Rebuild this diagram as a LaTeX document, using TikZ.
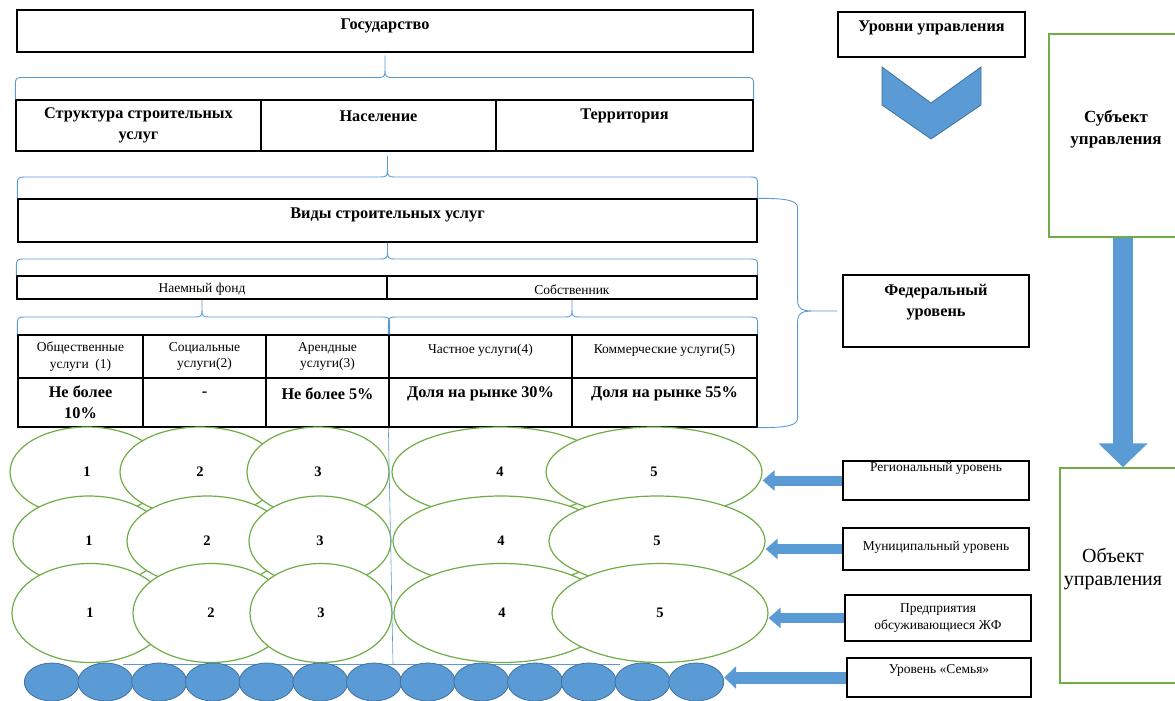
\documentclass[tikz,border=0pt]{standalone}
\usepackage{fontspec}
\setmainfont{Liberation Serif}
\usetikzlibrary{arrows.meta, positioning, calc, shapes.geometric}

\definecolor{greenline}{HTML}{70AD47}
\definecolor{bluefill}{HTML}{5B9BD5}
\definecolor{blueline}{HTML}{41719C}

% curly brace from two lower corners up to a tip
\newcommand{\bracelink}[3]{%
  \draw[brc] let \p1=(#1), \p2=(#2), \p3=(#3), \p4=($(\p1)!.5!(\p3)$) in
    (\x1,\y1) -- (\x1,\y4-7pt) .. controls (\x1,\y4-1pt) and (\x1+1pt,\y4) .. (\x1+7pt,\y4)
    -- (\x3-7pt,\y4) .. controls (\x3-1pt,\y4) and (\x3,\y4+1pt) .. (\x3,\y4+7pt) -- (\x3,\y3)
    (\x3,\y4+7pt) .. controls (\x3,\y4+1pt) and (\x3+1pt,\y4) .. (\x3+7pt,\y4)
    -- (\x2-7pt,\y4) .. controls (\x2-1pt,\y4) and (\x2,\y4-1pt) .. (\x2,\y4-7pt) -- (\x2,\y2);
}

\begin{document}
\begin{tikzpicture}[
	x=1pt, y=-1pt,
	box/.style={draw, line width=1.3pt, rectangle, inner sep=0pt},
	gbox/.style={draw=greenline, line width=1.4pt, rectangle, inner sep=0pt},
	big/.style={font=\bfseries\fontsize{16.3}{21}\selectfont, align=center, inner sep=0pt},
	small/.style={font=\fontsize{13.5}{16.5}\selectfont, align=center, inner sep=0pt},
	oval/.style={ellipse, draw=greenline, fill=white, line width=1.2pt, inner sep=0pt,
		font=\bfseries\fontsize{14.5}{16}\selectfont},
	dot/.style={ellipse, draw=blueline, fill=bluefill, line width=0.8pt,
		minimum width=55pt, minimum height=38pt},
	brc/.style={draw=bluefill, line width=0.9pt},
	barrow/.style={draw=bluefill, line width=10pt, -{Triangle[length=12pt,width=20pt]}}
	]
	\useasboundingbox (0,0) rectangle (1175,701);
	\clip (0,0) rectangle (1175,701);
	
	% Left column
	\node[box, minimum width=736pt, minimum height=42pt] (state) at (385,31) {};
	\node[big] (stateT) at ([yshift=5pt]state.center) {Государство};
	
	\node[box, minimum width=245pt, minimum height=51pt] (str) at (138.5,125.5) {};
	\node[box, minimum width=235pt, minimum height=51pt] (pop) at (378.5,125.5) {};
	\node[box, minimum width=257pt, minimum height=51pt] (terr) at (624.5,125.5) {};
	\node[big] (strT) at (str.center) {Структура строительных\\услуг};
	\node[big] (popT) at ([yshift=9.5pt]pop.center) {Население};
	\node[big] (terrT) at ([yshift=9.5pt]terr.center) {Территория};
	
	\node[box, minimum width=739pt, minimum height=43pt] (kinds) at (387.5,220.5) {};
	\node[big] (kindsT) at ([yshift=5.5pt]kinds.center) {Виды строительных услуг};
	
	\node[box, minimum width=370pt, minimum height=23pt] (hire) at (202,287.5) {};
	\node[box, minimum width=370pt, minimum height=23pt] (own) at (572,287.5) {};
	\node[small] (hireT) at ([yshift=-2pt]hire.center) {Наемный фонд};
	\node[small] (ownT) at ([yshift=-2pt]own.center) {Собственник};
	
	% Table
	\foreach \n/\x/\w in {1/80.5/125, 2/204.5/123, 3/327.5/123, 4/480.5/183, 5/664.5/185} {
		\node[box, minimum width=\w pt, minimum height=43pt] (c\n a) at (\x,356.5) {};
		\node[box, minimum width=\w pt, minimum height=49pt] (c\n b) at (\x,402.5) {};
	}
	\node[small] (c1aT) at (c1a.center) {Общественные\\услуги~ (1)};
	\node[small] (c2aT) at (c2a.center) {Социальные\\услуги(2)};
	\node[small] (c3aT) at (c3a.center) {Арендные\\услуги(3)};
	\node[small] (c4aT) at ([yshift=6.5pt]c4a.center) {Частное услуги(4)};
	\node[small] (c5aT) at ([yshift=6.5pt]c5a.center) {Коммерческие услуги(5)};
	\node[big] (c1bT) at (c1b.center) {Не более\\10\%};
	\node[big] (c2bT) at ([yshift=8.5pt]c2b.center) {-};
	\node[big] (c3bT) at ([yshift=8.5pt]c3b.center) {Не более 5\%};
	\node[big] (c4bT) at ([yshift=8.5pt]c4b.center) {Доля на рынке 30\%};
	\node[big] (c5bT) at ([yshift=8.5pt]c5b.center) {Доля на рынке 55\%};
	
	% Braces
	\path (state.south) ++(0,3) coordinate (t1);
	\path (pop.south -| kinds.north) ++(0,4) coordinate (t2);
	\bracelink{str.north west}{terr.north east}{t1}
	\bracelink{kinds.north west}{kinds.north east}{t2}
	\bracelink{hire.north west}{own.north east}{kinds.south}
	\bracelink{c1a.north west}{c3a.north east}{hire.south}
	\bracelink{c4a.north west}{c5a.north east}{own.south}
	
	% Right column
	\node[box, minimum width=187pt, minimum height=45pt] (levels) at (931.5,34.5) {};
	\node[big] (levelsT) at ([yshift=6.5pt]levels.center) {Уровни управления};
	\filldraw[fill=bluefill, draw=blueline, line width=0.8pt]
		(882,67) -- (931,103) -- (981,67) -- (981,105) -- (931,139) -- (882,105) -- cycle;
	
	\node[box, minimum width=186pt, minimum height=72pt] (fed) at (936,311) {};
	\node[big] (fedT) at ([yshift=9pt]fed.center) {Федеральный\\уровень};
	\draw[brc] let \p1=(kinds.north east), \p2=(c5b.south east), \p3=(fed.west) in
		(\x1,\y1) .. controls (\x1+30pt,\y1) and (\x1+40pt,\y1-2pt) .. (\x1+40pt,\y1-10pt)
		-- (\x1+40pt,\y3+10pt) .. controls (\x1+40pt,\y3+2pt) and (\x1+45pt,\y3) .. (\x1+55pt,\y3)
		-- (\x3-5pt,\y3)
		(\x1+55pt,\y3) .. controls (\x1+45pt,\y3) and (\x1+40pt,\y3-2pt) .. (\x1+40pt,\y3-10pt)
		-- (\x2+40pt,\y2+10pt) .. controls (\x2+40pt,\y2+2pt) and (\x2+30pt,\y2) .. (\x2,\y2);
	
	\node[gbox, minimum width=148pt, minimum height=203pt] (subj) at (1123,135.5) {};
	\node[big, font=\bfseries\fontsize{17}{22}\selectfont] (subjT) at ([xshift=-7pt,yshift=6.5pt]subj.center) {Субъект\\управления};
	\node[gbox, minimum width=126pt, minimum height=215pt] (obj) at (1123,575.5) {};
	\node[big, font=\fontsize{20}{23}\selectfont] (objT) at ([xshift=-10pt,yshift=7pt]obj.center) {Объект\\управления};
	\draw[draw=bluefill, line width=20pt, -{Triangle[length=24pt,width=48pt]}] (subj.south) -- (obj.north);
	
	\node[box, minimum width=186pt, minimum height=39pt] (reg) at (936,480.5) {};
	\node[small] (regT) at ([yshift=12pt]reg.center) {Региональный уровень};
	\node[box, minimum width=186pt, minimum height=42pt] (mun) at (936,549) {};
	\node[small] (munT) at ([yshift=2pt]mun.center) {Муниципальный уровень};
	\node[box, minimum width=186pt, minimum height=46pt] (ent) at (938,618) {};
	\node[small] (entT) at (ent.center) {Предприятия\\обсуживающиеся ЖФ};
	\node[box, minimum width=184pt, minimum height=39pt] (fam) at (939,677.5) {};
	\node[small] (famT) at ([yshift=7.5pt]fam.center) {Уровень «Семья»};
	
	% Ovals
	\foreach \x/\w [count=\i] in {87/154, 200/160, 318/142, 500/216, 654/216}
		\node[oval, minimum width=\w pt, minimum height=90pt] (r1e\i) at (\x,472) {\i};
	\foreach \x/\w [count=\i] in {89/152, 207/160, 320/142, 501/216, 657/216}
		\node[oval, minimum width=\w pt, minimum height=90pt] (r2e\i) at (\x,541) {\i};
	\foreach \x/\w [count=\i] in {90/156, 211/156, 321/142, 502/216, 660/216}
		\node[oval, minimum width=\w pt, minimum height=99pt] (r3e\i) at (\x,613) {\i};
	\draw[brc, line width=0.6pt] (c4b.south west) -- (393,664);
	\draw[brc, line width=0.6pt] (123,664) -- (620,664);
	
	% Family row
	\foreach \i in {1,...,13}
		\node[dot] (f\i) at ({51.85+53.7*(\i-1)},682) {};
	
	% Arrows
	\draw[barrow] (reg.west) -- (reg.west -| r1e5.east);
	\draw[barrow] (mun.west) -- (mun.west -| r2e5.east);
	\draw[barrow] (ent.west) -- (ent.west -| r3e5.east);
	\draw[barrow, line width=12pt, -{Triangle[length=12pt,width=22pt]}] (fam.west) -- (fam.west -| f13.east);
	
\end{tikzpicture}
\end{document}
